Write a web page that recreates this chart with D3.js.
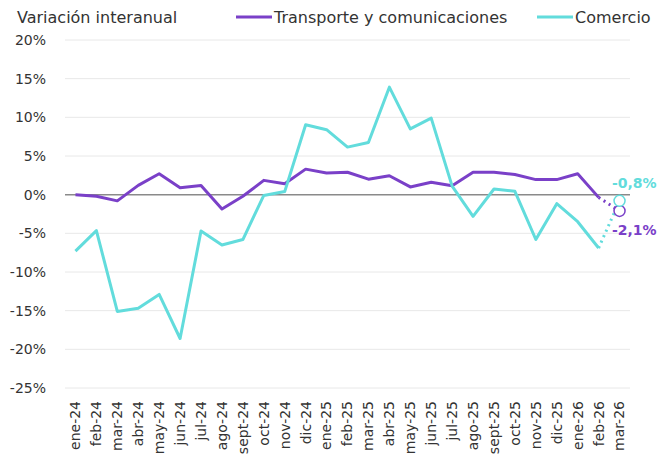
<!DOCTYPE html>
<html>
<head>
<meta charset="utf-8">
<script src="https://cdn.jsdelivr.net/npm/d3@7"></script>
<style>
  body { margin: 0; background: #fff; }
  text { font-family: "DejaVu Sans", sans-serif; fill: #333; }
</style>
</head>
<body>
<div id="chart"></div>
<script>
// months on the x axis
const months = ["ene-24", "feb-24", "mar-24", "abr-24", "may-24", "jun-24", "jul-24", "ago-24", "sept-24",
    "oct-24", "nov-24", "dic-24", "ene-25", "feb-25", "mar-25", "abr-25", "may-25", "jun-25", "jul-25",
    "ago-25", "sept-25", "oct-25", "nov-25", "dic-25", "ene-26", "feb-26", "mar-26"];

// year-on-year change, %
const transporte = [0.0, -0.2, -0.8, 1.2, 2.7, 0.9, 1.2, -1.85, -0.2, 1.85, 1.4, 3.3, 2.8, 2.9,
    2.0, 2.45, 1.0, 1.6, 1.15, 2.9, 2.9, 2.6, 1.95, 1.95, 2.7, -0.35, -2.1];
const comercio = [-7.3, -4.65, -15.1, -14.7, -12.9, -18.6, -4.7, -6.5, -5.8, -0.1, 0.4, 9.05, 8.4, 6.15,
    6.75, 13.9, 8.5, 9.9, 1.1, -2.8, 0.73, 0.43, -5.8, -1.16, -3.5, -6.9, -0.8];

const yTicks = [20, 15, 10, 5, 0, -5, -10, -15, -20, -25];

const series = [
    { name: "Transporte y comunicaciones", values: transporte, color: "#7a40c8", label: "-2,1%" },
    { name: "Comercio", values: comercio, color: "#62dcdc", label: "-0,8%" }
];

const width = 659, height = 469;
const margin = { top: 40, right: 29, bottom: 81, left: 65 };

const svg = d3.select("#chart").append("svg")
    .attr("width", width)
    .attr("height", height);

const x = d3.scalePoint()
    .domain(months)
    .range([margin.left, width - margin.right])
    .padding(0.5);

const y = d3.scaleLinear()
    .domain([-25, 20])
    .range([height - margin.bottom, margin.top]);

// gridlines
svg.append("g")
    .selectAll("line")
    .data(yTicks)
    .enter().append("line")
    .attr("x1", margin.left)
    .attr("x2", width - margin.right)
    .attr("y1", d => y(d))
    .attr("y2", d => y(d))
    .attr("stroke", d => d === 0 ? "#8a8a8a" : "#e8e8e8")
    .attr("stroke-width", d => d === 0 ? 1.5 : 1);

// y labels
svg.append("g")
    .selectAll("text")
    .data(yTicks)
    .enter().append("text")
    .attr("x", 46)
    .attr("y", d => y(d))
    .attr("dy", "0.35em")
    .attr("text-anchor", "end")
    .style("font-size", "14px")
    .text(d => d + "%");

// x labels, rotated
svg.append("g")
    .selectAll("text")
    .data(months)
    .enter().append("text")
    .attr("transform", d => `translate(${x(d)},${height - margin.bottom + 13}) rotate(-90)`)
    .attr("dy", "0.35em")
    .attr("text-anchor", "end")
    .style("font-size", "14px")
    .text(d => d);

const line = d3.line()
    .x(d => x(d.m))
    .y(d => y(d.v));

const last = months.length - 1;

series.forEach(s => {
    const pts = s.values.map((v, i) => ({ m: months[i], v: v }));

    // solid part up to feb-26
    svg.append("path")
        .datum(pts.slice(0, last))
        .attr("fill", "none")
        .attr("stroke", s.color)
        .attr("stroke-width", 3)
        .attr("stroke-linejoin", "round")
        .attr("d", line);

    // dotted last step
    svg.append("path")
        .datum(pts.slice(last - 1))
        .attr("fill", "none")
        .attr("stroke", s.color)
        .attr("stroke-width", 3)
        .attr("stroke-dasharray", "2,4")
        .attr("d", line);
});

// end markers
series.forEach(s => {
    const v = s.values[last];
    svg.append("circle")
        .attr("cx", x(months[last]))
        .attr("cy", y(v))
        .attr("r", 5.5)
        .attr("fill", "#fff")
        .attr("stroke", s.color)
        .attr("stroke-width", 1.5);
});

// end labels
svg.append("text")
    .attr("x", 612)
    .attr("y", 183)
    .attr("dy", "0.35em")
    .style("font-size", "14px")
    .style("font-weight", "bold")
    .style("fill", series[1].color)
    .text(series[1].label);

svg.append("text")
    .attr("x", 612)
    .attr("y", 230)
    .attr("dy", "0.35em")
    .style("font-size", "14px")
    .style("font-weight", "bold")
    .style("fill", series[0].color)
    .text(series[0].label);

// title
svg.append("text")
    .attr("x", 17)
    .attr("y", 17)
    .attr("dy", "0.35em")
    .style("font-size", "16px")
    .text("Variación interanual");

// legend
const legendX = [236, 537];
series.forEach((s, i) => {
    const g = svg.append("g").attr("transform", `translate(${legendX[i]},17)`);
    g.append("line")
        .attr("x1", 0).attr("x2", 36)
        .attr("stroke", s.color)
        .attr("stroke-width", 3);
    g.append("text")
        .attr("x", 38)
        .attr("dy", "0.35em")
        .style("font-size", "16px")
        .text(s.name);
});
</script>
</body>
</html>
